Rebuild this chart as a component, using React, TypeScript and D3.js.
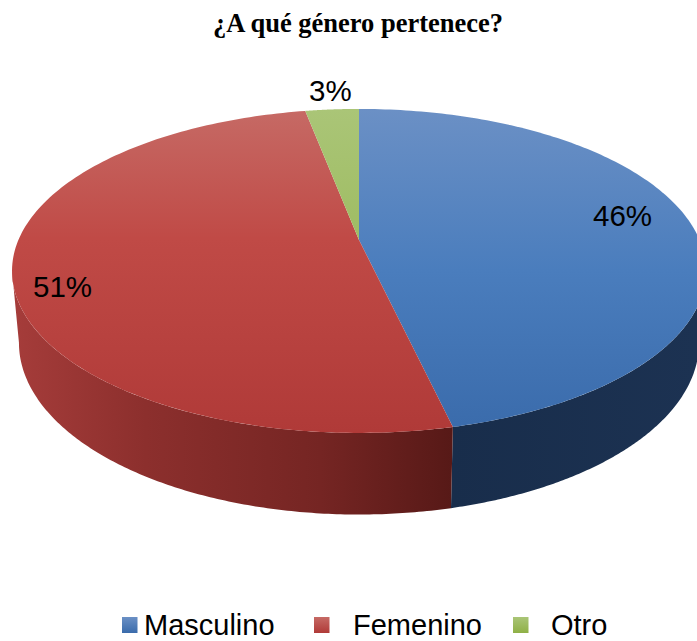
import React from "react";
import * as d3 from "d3";

const categories = ["Masculino", "Femenino", "Otro"];
const values = [46.4, 50.6, 3.0];
const labels = ["46%", "51%", "3%"];
const title = "¿A qué género pertenece?";

const W = 697, H = 641;
const CX = 359, APEX_TOP = 240, APEX_BOTTOM = 310;
const K = 0.191, A = 340.6, B = 156.1, BOTTOM_X = 0.98, BOTTOM_Y = 1.06;

const project = (t: number, sx: number, sy: number, apexY: number): [number, number] => {
  const u = Math.sin(t), v = -Math.cos(t), w = 1 + K * Math.cos(t);
  return [CX + (sx * A * u) / w, apexY + (sy * B * v) / w];
};
const top = (t: number) => project(t, 1, 1, APEX_TOP);
const bottom = (t: number) => project(t, BOTTOM_X, BOTTOM_Y, APEX_BOTTOM);
const lineGen = d3.line();
const steps = (a: number, b: number) => d3.range(0, 161).map((i) => a + ((b - a) * i) / 160);

const pie = d3.pie<number>().sort(null).startAngle(0).endAngle(2 * Math.PI);
const arcs = pie(values);

const EDGE = Math.acos(-K);
const wallVisibleFrom = EDGE;
const wallVisibleTo = 2 * Math.PI - EDGE;

const topStops = [
  [["0", "#6b90c5"], ["0.5", "#4a7dbd"], ["1", "#3a6bab"]],
  [["0", "#c66a65"], ["0.4", "#c04a46"], ["1", "#b03a38"]],
  [["0", "#aac577"], ["1", "#8fb046"]],
];
const swatchStops = [
  [["0", "#6b90c5"], ["1", "#3a6bab"]],
  [["0", "#c66a65"], ["1", "#b03a38"]],
  [["0", "#aac577"], ["1", "#8fb046"]],
];
const colLegendX = [122, 314, 513];
const legendTextX = [144, 353, 551];
const labelPos: [number, number][] = [[593, 226], [33, 297], [309, 101]];

export default function App() {
  return (
    <svg width={W} height={H} style={{ position: "absolute", left: 0, top: 0, display: "block" }}>
      <defs>
        {categories.map((c, i) => (
          <linearGradient key={c} id={`top${i}`} gradientUnits="userSpaceOnUse" x1={0} x2={0} y1={109} y2={433}>
            {topStops[i].map(([o, s]) => <stop key={o} offset={o} stopColor={s} />)}
          </linearGradient>
        ))}
        {categories.map((c, i) => (
          <linearGradient key={c} id={`sw${i}`} x1={0} x2={0} y1={0} y2={1}>
            {swatchStops[i].map(([o, s]) => <stop key={o} offset={o} stopColor={s} />)}
          </linearGradient>
        ))}
        <linearGradient id="wallRed" gradientUnits="userSpaceOnUse" x1={15} x2={452} y1={0} y2={0}>
          <stop offset="0" stopColor="#a53c3a" />
          <stop offset="0.3" stopColor="#8c2f2d" />
          <stop offset="0.7" stopColor="#752523" />
          <stop offset="1" stopColor="#571917" />
        </linearGradient>
        <linearGradient id="wallBlue" gradientUnits="userSpaceOnUse" x1={452} x2={697} y1={0} y2={0}>
          <stop offset="0" stopColor="#182d4b" />
          <stop offset="1" stopColor="#1c3252" />
        </linearGradient>
      </defs>

      {arcs.map((a, i) => {
        const s = Math.max(a.startAngle, wallVisibleFrom);
        const e = Math.min(a.endAngle, wallVisibleTo);
        if (e <= s) return null;
        const ts = steps(s, e);
        const pts = [...ts.map(top), ...ts.slice().reverse().map(bottom)];
        return <path key={i} d={lineGen(pts) + "Z"} fill={i === 0 ? "url(#wallBlue)" : "url(#wallRed)"} />;
      })}

      {arcs.map((a, i) => {
        const pts: [number, number][] = [[CX, APEX_TOP], ...steps(a.startAngle, a.endAngle).map(top)];
        return <path key={i} d={lineGen(pts) + "Z"} fill={`url(#top${i})`} />;
      })}

      <text x={358} y={32} textAnchor="middle" fontFamily="'Liberation Serif', serif" fontWeight="bold" fontSize={26.5} fill="#000">
        {title}
      </text>

      {labels.map((l, i) => (
        <text key={l} x={labelPos[i][0]} y={labelPos[i][1]} fontFamily="'Liberation Sans', sans-serif" fontSize={29.5} fill="#000">
          {l}
        </text>
      ))}

      {categories.map((c, i) => (
        <g key={c}>
          <rect x={colLegendX[i]} y={617} width={15.5} height={16} fill={`url(#sw${i})`} />
          <text x={legendTextX[i]} y={635} fontFamily="'Liberation Sans', sans-serif" fontSize={29} fill="#000">
            {c}
          </text>
        </g>
      ))}
    </svg>
  );
}
